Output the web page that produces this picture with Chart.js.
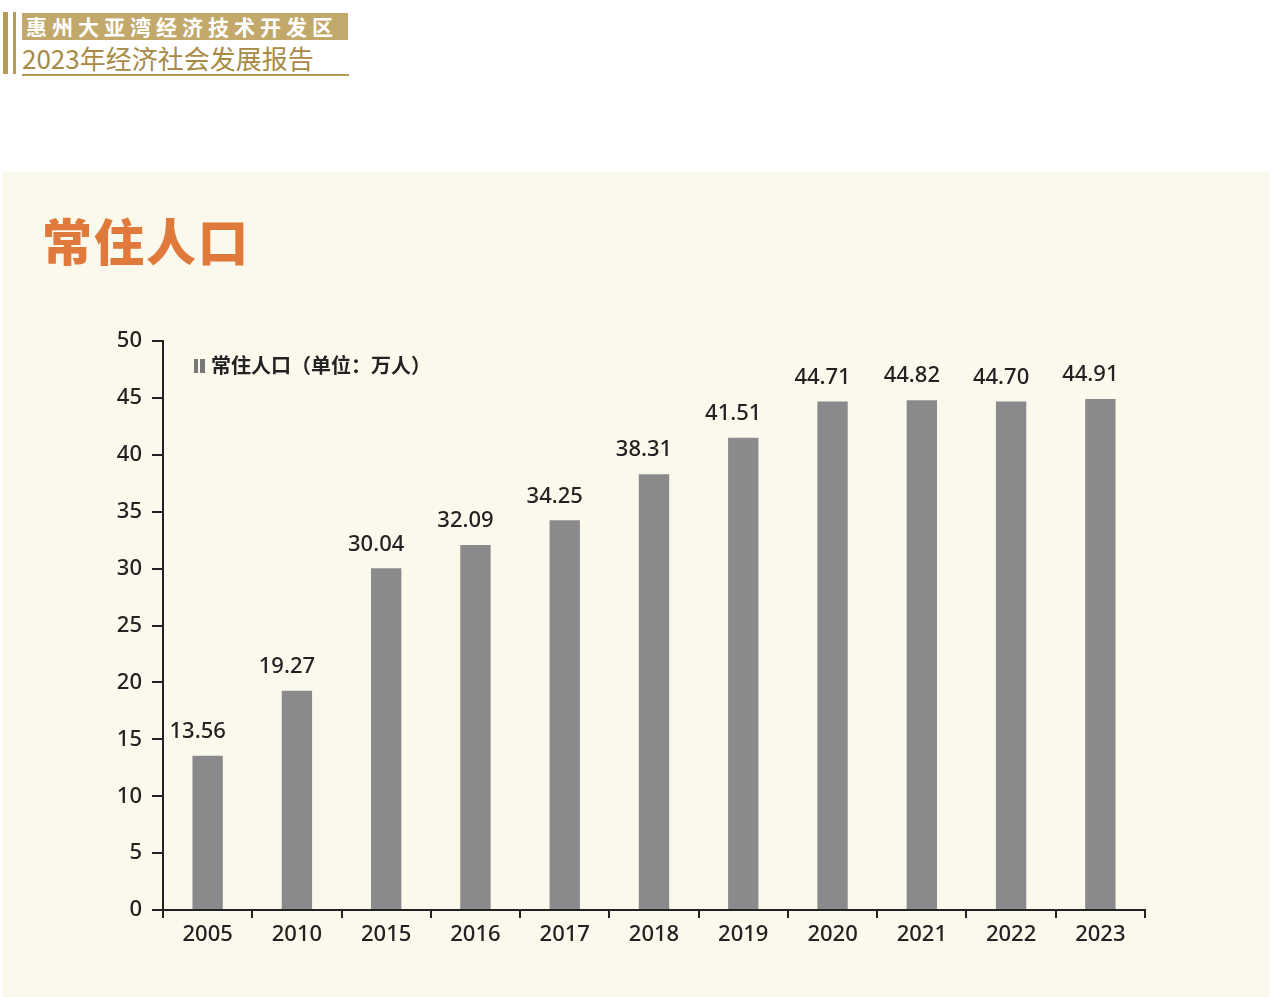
<!DOCTYPE html>
<html><head><meta charset="utf-8">
<script src="https://cdn.jsdelivr.net/npm/chart.js@4/dist/chart.umd.min.js"></script>
<style>
body{margin:0;width:1280px;height:997px;background:#fff;position:relative;overflow:hidden;font-family:"Noto Sans","Noto Sans CJK SC",sans-serif}
.bar1{position:absolute;left:3px;top:12px;width:5px;height:62px;background:#b59a5a}
.bar2{position:absolute;left:13px;top:12px;width:3px;height:62px;background:#b59a5a}
.h1{position:absolute;left:22px;top:13px;height:27px;width:322px;background:#c2a96b;color:#fff;font:bold 21px "Noto Sans CJK SC";letter-spacing:5px;line-height:27px;padding-left:4px}
.h2{position:absolute;left:22px;top:42px;color:#a88a45;font:26px "Noto Sans CJK SC";line-height:32px;border-bottom:2px solid #b59a5a;width:327px}
.panel{position:absolute;left:2px;top:172px;width:1268px;height:825px;background:#fbf8ec}
.title{position:absolute;left:42px;top:203px;color:#e07a3c;font:900 50px "Noto Sans CJK SC";letter-spacing:2px}
.legend{position:absolute;left:194px;top:350px;font:bold 20px "Noto Sans CJK SC";color:#222}
.legend i{display:inline-block;width:11px;height:14px;background:linear-gradient(90deg,#777 0 40%,#fbf8ec 40% 55%,#777 55%);margin-right:6px}
#wrap{position:absolute;left:90px;top:318px;width:1070px;height:662px}
</style></head><body>
<div class="bar1"></div><div class="bar2"></div>
<div class="h1">惠州大亚湾经济技术开发区</div>
<div class="h2">2023年经济社会发展报告</div>
<div class="panel"></div>
<div class="title">常住人口</div>
<div id="wrap"><canvas id="c"></canvas></div>
<div class="legend"><i></i>常住人口（单位：万人）</div>
<script>
// 数据
const years = ['2005','2010','2015','2016','2017','2018','2019','2020','2021','2022','2023'];
const population = [13.56, 19.27, 30.04, 32.09, 34.25, 38.31, 41.51, 44.71, 44.82, 44.70, 44.91];
const yTicks = [0, 5, 10, 15, 20, 25, 30, 35, 40, 45, 50];

function barFill(ctx) {
  const el = ctx.element;
  if (!el || el.width == null) return '#8a8a8c';
  const x0 = el.x - el.width / 2, x1 = el.x + el.width / 2;
  const g = ctx.chart.ctx.createLinearGradient(x0, 0, x1, 0);
  g.addColorStop(0, '#707072');
  g.addColorStop(0.35, '#8d8d8f');
  g.addColorStop(0.5, '#e8e8e8');
  g.addColorStop(0.65, '#8d8d8f');
  g.addColorStop(1, '#707072');
  return g;
}

const valueLabels = {
  id: 'valueLabels',
  afterDatasetsDraw(chart) {
    const c = chart.ctx;
    c.save();
    c.font = '500 22px "Noto Sans"';
    c.fillStyle = '#222';
    c.textAlign = 'center';
    c.textBaseline = 'bottom';
    chart.getDatasetMeta(0).data.forEach((b, i) => {
      c.fillText(population[i].toFixed(2), b.x - 10, b.y - 13);
    });
    c.restore();
  }
};

new Chart(document.getElementById('c'), {
  type: 'bar',
  data: { labels: years, datasets: [{ data: population, backgroundColor: barFill, barPercentage: 0.34, categoryPercentage: 1 }] },
  options: {
    responsive: true, maintainAspectRatio: false, animation: false,
    layout: { padding: { top: 15, right: 15 } },
    plugins: { legend: { display: false }, tooltip: { enabled: false } },
    scales: {
      x: {
        afterFit(s) { s.height = 70; },
        grid: { offset: true, drawOnChartArea: false, drawTicks: true, tickLength: 8, color: '#222', lineWidth: 2 },
        border: { color: '#222', width: 2 },
        ticks: { color: '#222', font: { size: 22, weight: '500', family: 'Noto Sans' }, padding: 4 }
      },
      y: {
        min: 0, max: 50,
        afterFit(s) { s.width = 73; },
        afterBuildTicks(s) { s.ticks = yTicks.map(v => ({ value: v })); },
        grid: { drawOnChartArea: false, drawTicks: true, tickLength: 11, color: '#222', lineWidth: 2 },
        border: { color: '#222', width: 2 },
        ticks: { color: '#222', font: { size: 22, weight: '500', family: 'Noto Sans' }, padding: 10 }
      }
    }
  },
  plugins: [valueLabels]
});
</script>
</body></html>
